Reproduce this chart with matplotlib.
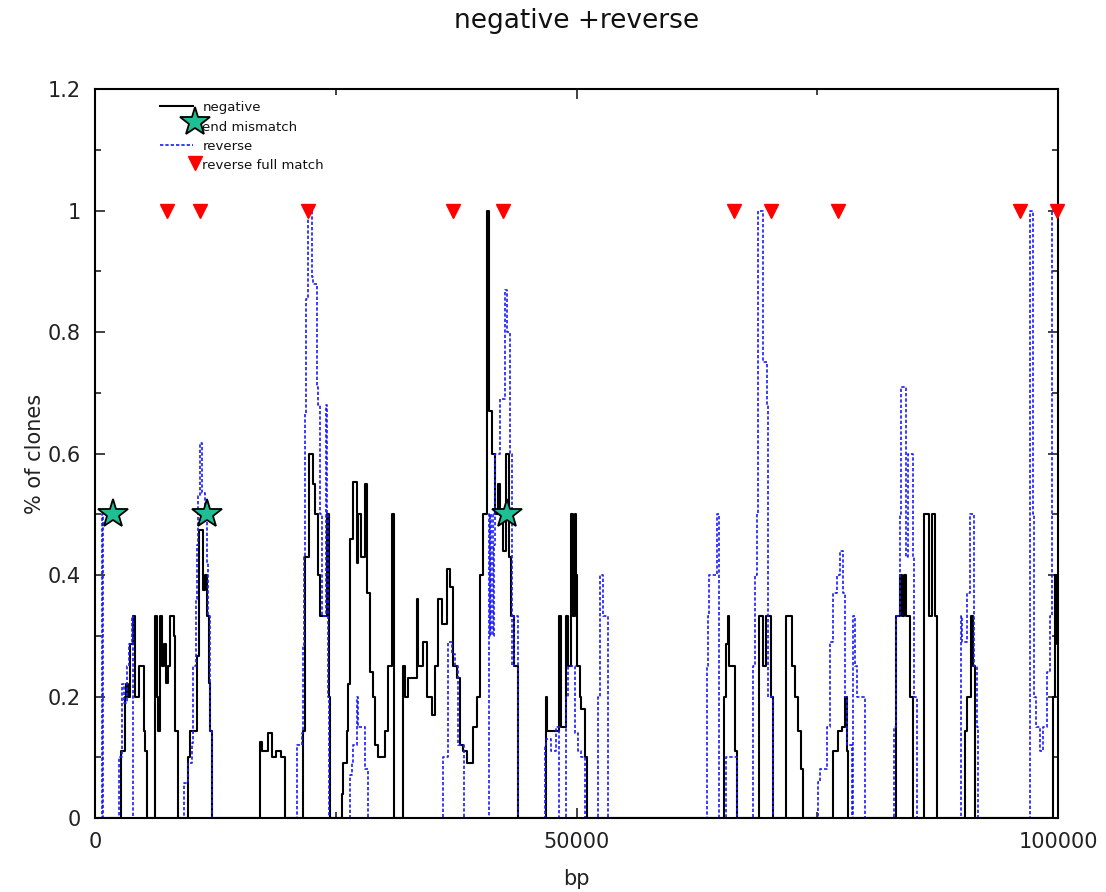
import matplotlib
matplotlib.use("Agg")
import matplotlib.pyplot as plt
from matplotlib.ticker import MultipleLocator, FuncFormatter

# coverage of the negative clones (step profile, bp -> fraction)
neg_x = [0,
         2669, 3115, 3219, 3427, 3634, 3946, 4154, 4517, 5036, 5192, 5400,
         6230, 6438, 6542, 6750, 6957, 7165, 7373, 7580, 7788, 8203, 8307, 8619,
         9626, 9865, 10280, 10561, 10831, 11246, 11422, 11599, 11806, 11942, 12181,
         17134, 17341, 17964, 18380, 18795, 19314, 19730,
         21630, 21806, 22253, 22637, 22844, 23187, 23364, 24060, 24299, 24371,
         25618, 25784, 26137, 26303, 26479, 26822, 27175, 27341, 27622, 28037,
         28214, 28556, 28899, 29075, 29398, 30114, 30457, 30810, 31048,
         32014, 32190, 32533, 33405, 33572, 34091, 34444, 34963, 35306, 35648,
         36001, 36520, 36863, 37206, 37559, 37902, 38244, 38597, 39283, 39636,
         39978, 40321, 40737, 40944, 41193, 41536, 41879, 42055, 42398, 42679,
         43022, 43167, 43510, 43956,
         46822, 46926, 48224, 48400, 48930, 49106, 49387, 49636, 49802, 49979,
         50083, 50332, 50509, 50862, 51100,
         65348, 65523, 65762, 65834, 66458, 66697,
         68982, 69398, 69680, 70166, 70374,
         71754, 72346, 72688, 73031, 73280, 73488,
         76667, 77186, 77539, 77882, 78121, 78225,
         83176, 83591, 83768, 84006, 84214, 84630, 84910,
         86083, 86634, 86883, 87226, 87402,
         90341, 90517, 90933, 91203, 91411,
         99509, 99686, 99925, 100000]
neg_y = [0,
         0.11, 0.2, 0.22, 0.2, 0.286, 0.333, 0.2, 0.25, 0.143, 0.11, 0,
         0.333, 0.2, 0.143, 0.333, 0.25, 0.286, 0.222, 0.25, 0.333, 0.3, 0.143, 0,
         0.1, 0.143, 0.143, 0.267, 0.474, 0.375, 0.4, 0.333, 0.222, 0.143, 0,
         0.125, 0.111, 0.14, 0.1, 0.111, 0.1, 0,
         0.143, 0.43, 0.6, 0.55, 0.5, 0.4, 0.333, 0.5, 0.2, 0,
         0.04, 0.09, 0.143, 0.22, 0.46, 0.553, 0.42, 0.5, 0.43, 0.55,
         0.37, 0.24, 0.2, 0.12, 0.1, 0.143, 0.25, 0.5, 0,
         0.25, 0.2, 0.23, 0.36, 0.25, 0.29, 0.2, 0.17, 0.25, 0.36,
         0.32, 0.41, 0.38, 0.25, 0.23, 0.12, 0.11, 0.09, 0.15, 0.2,
         0.4, 0.5, 1.0, 0.67, 0.6, 0.5, 0.55, 0.5, 0.44, 0.6,
         0.43, 0.333, 0.25, 0,
         0.2, 0.143, 0.333, 0.15, 0.333, 0.25, 0.5, 0.333, 0.5, 0.4,
         0.25, 0.2, 0.18, 0.1, 0,
         0.2, 0.286, 0.333, 0.25, 0.11, 0,
         0.333, 0.25, 0.333, 0.2, 0,
         0.333, 0.25, 0.2, 0.143, 0.08, 0,
         0.11, 0.143, 0.15, 0.2, 0.11, 0,
         0.333, 0.4, 0.333, 0.4, 0.333, 0.2, 0,
         0.5, 0.333, 0.5, 0.333, 0,
         0.143, 0.2, 0.333, 0.25, 0,
         0.2, 0.4, 0.286, 0.286]

# coverage of the reverse clones
rev_x = [0,
         675, 779,
         2523, 2773, 3043, 3354, 3531, 3811, 3977,
         9273, 9688, 10041, 10207, 10488, 10561, 10727, 10903, 11080, 11422,
         11599, 11765, 11942, 12181,
         20945, 21464, 21630, 21734, 21806, 21910, 22149, 22502, 22668, 23021,
         23187, 23364, 23540, 23987, 24122, 24226, 24299,
         26479, 26656, 26822, 27175, 27341, 28037, 28380,
         36105, 36167, 36686, 37040, 37382, 37725, 38348,
         40862, 40966, 41121, 41277, 41432, 41588, 42055, 42574, 42782, 43094,
         43301, 43510, 43925,
         46718, 46822, 47351, 47870, 48224, 48930, 49106, 49802, 50155, 50509, 50924,
         52191, 52440, 52783, 53313,
         63582, 63686, 63790, 64558, 64797,
         65523, 66697,
         68358, 68534, 68711, 68877, 69398, 69752, 69918, 70374,
         75108, 75284, 75980, 76323, 76667, 77020, 77363, 77643, 77882, 78058,
         78578, 78744, 78920, 79096, 79961,
         82968, 83176, 83591, 83664, 84214, 84453, 84910, 85077, 85326,
         89894, 89998, 90517, 90860, 91276, 91556, 91722,
         97092, 97403, 97507, 97715, 98130, 98473, 98826, 99169, 99408, 100000]
rev_y = [0,
         0.5, 0,
         0.1, 0.22, 0.19, 0.25, 0.286, 0.333, 0,
         0.058, 0.09, 0.123, 0.25, 0.36, 0.45, 0.53, 0.617, 0.535, 0.5,
         0.42, 0.333, 0.145, 0,
         0.12, 0.14, 0.285, 0.43, 0.667, 0.855, 1.0, 0.89, 0.88, 0.71,
         0.68, 0.5, 0.333, 0.68, 0.5, 0.2, 0,
         0.07, 0.09, 0.12, 0.2, 0.15, 0.08, 0,
         0.06, 0.1, 0.29, 0.27, 0.25, 0.12, 0,
         0.5, 0.3, 0.5, 0.3, 0.45, 0.6, 0.69, 0.87, 0.8, 0.6,
         0.25, 0.333, 0,
         0.12, 0.13, 0.11, 0.15, 0, 0.2, 0.25, 0.14, 0.11, 0.1, 0,
         0.2, 0.4, 0.333, 0,
         0.25, 0.333, 0.4, 0.5, 0,
         0.1, 0,
         0.25, 0.4, 0.5, 1.0, 0.75, 0.68, 0.2, 0,
         0.06, 0.08, 0.15, 0.29, 0.37, 0.4, 0.44, 0.37, 0.2, 0.12,
         0, 0.333, 0.25, 0.2, 0,
         0.15, 0.333, 0.5, 0.71, 0.43, 0.6, 0.43, 0.2, 0,
         0.333, 0.29, 0.37, 0.5, 0.25, 0.15, 0,
         1.0, 0.5, 0.2, 0.15, 0.11, 0.15, 0.24, 0.333, 1.0, 1.0]

# clone ends with a mismatch, and reverse clones matching fully
mismatch_x = [1870, 11630, 42780]
mismatch_y = [0.5, 0.5, 0.5]
full_match_x = [7477, 10903, 22118, 37175, 42367, 66354, 70196, 77154, 96052, 99894]
full_match_y = [1.0] * len(full_match_x)

key_labels = ["negative", "end mismatch", "reverse", "reverse full match"]

neg_style = dict(color="black", lw=1.5)
rev_style = dict(color="#1a1aff", lw=1.2, linestyle=(0, (2, 1.2)))
star_style = dict(marker="*", color="#1fbf95", markersize=22,
                  markeredgecolor="black", markeredgewidth=1.3, linestyle="none")
tri_style = dict(marker="v", color="red", markersize=10,
                 markeredgecolor="red", linestyle="none")

fig = plt.figure(figsize=(11.06, 8.92), dpi=100)
ax = fig.add_axes([0.0859, 0.083, 0.8707, 0.817])

ax.plot(neg_x, neg_y, drawstyle="steps-post", **neg_style)
ax.plot(rev_x, rev_y, drawstyle="steps-post", **rev_style)
ax.plot(full_match_x, full_match_y, clip_on=False, zorder=4, **tri_style)
ax.plot(mismatch_x, mismatch_y, clip_on=False, zorder=5, **star_style)

ax.set_xlim(0, 100000)
ax.set_ylim(0, 1.2)
ax.xaxis.set_major_locator(MultipleLocator(50000))
ax.xaxis.set_minor_locator(MultipleLocator(25000))
ax.yaxis.set_major_locator(MultipleLocator(0.2))
ax.yaxis.set_minor_locator(MultipleLocator(0.1))
ax.yaxis.set_major_formatter(FuncFormatter(lambda v, pos: "%g" % round(v, 1)))
ax.tick_params(which="both", direction="in", top=True, right=True,
               labelsize=15, colors="#222222", pad=10)
ax.tick_params(which="major", length=7, width=1.2)
ax.tick_params(which="minor", length=4, width=1.2)
for sp in ax.spines.values():
    sp.set_linewidth(1.5)

ax.set_xlabel("bp", fontsize=15, color="#222222", labelpad=12)
ax.set_ylabel("% of clones", fontsize=15, color="#222222", labelpad=2)
fig.text(0.5215, 0.977, "negative +reverse", ha="center", va="center",
         fontsize=19, color="#111111")

# key in the top left corner: sample on the left, symbol at its right end
tr = ax.transAxes
ax.plot([0.0675, 0.102], [0.9767, 0.9767], transform=tr, **neg_style)
ax.plot([0.1038], [0.9547], transform=tr, zorder=6, **star_style)
ax.plot([0.0675, 0.102], [0.9232, 0.9232], transform=tr, **rev_style)
ax.plot([0.1038], [0.8985], transform=tr, **tri_style)
for yy, lab in zip([0.9745, 0.9470, 0.9218, 0.8957], key_labels):
    ax.text(0.1115, yy, lab, transform=tr, fontsize=9.5, va="center",
            ha="left", color="#111111")

fig.savefig("out.png", dpi=100)
